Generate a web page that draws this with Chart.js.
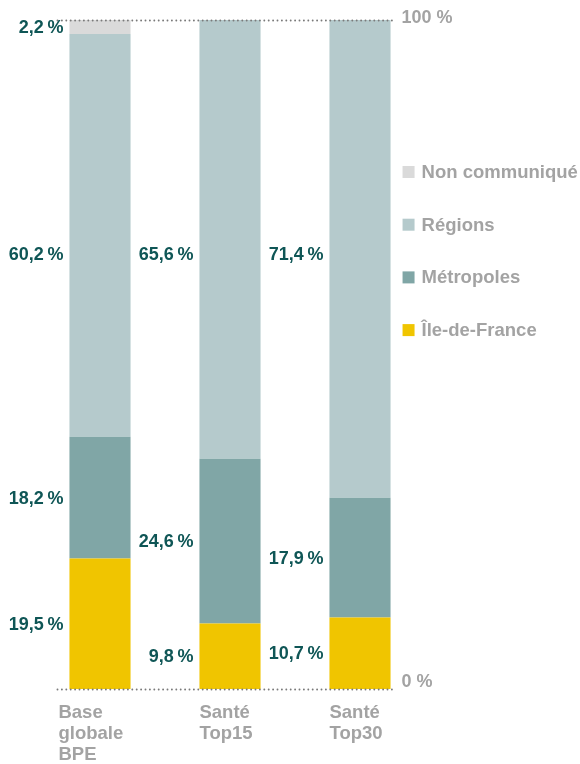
<!DOCTYPE html>
<html>
<head>
<meta charset="utf-8">
<script src="https://cdn.jsdelivr.net/npm/chart.js@4"></script>
<style>
  body { margin: 0; background: #fff; }
  #wrap { width: 580px; height: 764px; position: relative; }
</style>
</head>
<body>
<div id="wrap"><canvas id="chart"></canvas></div>
<script>
const categories = [["Base", "globale", "BPE"], ["Santé", "Top15"], ["Santé", "Top30"]];
const ileDeFrance = [19.5, 9.8, 10.7];
const metropoles = [18.2, 24.6, 17.9];
const regions = [60.2, 65.6, 71.4];
const nonCommunique = [2.2, null, null];
const axisLabels = ["100 %", "0 %"];

const FONT = "'Liberation Sans', Arial, sans-serif";
const GREY = "#a3a3a3";
const TEAL = "#0f5656";

function fmt(v) {
    return v.toFixed(1).replace(".", ",") + "\u2009%";
}

// labels, dotted guides and the legend are painted by hand
const decorations = {
    id: "decorations",
    afterDatasetsDraw(chart) {
        const ctx = chart.ctx;
        const y = chart.scales.y;
        const first = chart.getDatasetMeta(0).data;
        const left = first[0].x - first[0].width / 2;
        const lastBar = first[first.length - 1];
        const right = lastBar.x + lastBar.width / 2;

        ctx.save();

        // dotted lines at 0 and 100
        ctx.strokeStyle = "#7a7a7a";
        ctx.lineWidth = 1.8;
        ctx.lineCap = "round";
        ctx.setLineDash([0.1, 4.3]);
        [100, 0].forEach(function (v) {
            const py = Math.round(y.getPixelForValue(v)) + 0.5;
            ctx.beginPath();
            ctx.moveTo(left - 12, py);
            ctx.lineTo(right + 4, py);
            ctx.stroke();
        });
        ctx.setLineDash([]);

        // 100 % / 0 % on the right
        ctx.font = "bold 18px " + FONT;
        ctx.fillStyle = GREY;
        ctx.textAlign = "left";
        ctx.textBaseline = "alphabetic";
        ctx.fillText(axisLabels[0], right + 11, y.getPixelForValue(100) + 3);
        ctx.fillText(axisLabels[1], right + 11, y.getPixelForValue(0) - 2);

        // value labels, left of each segment
        ctx.font = "bold 18px " + FONT;
        ctx.fillStyle = TEAL;
        ctx.textAlign = "right";
        ctx.textBaseline = "middle";
        chart.data.datasets.forEach(function (ds, di) {
            const meta = chart.getDatasetMeta(di);
            meta.data.forEach(function (bar, i) {
                const v = ds.data[i];
                if (v == null) return;
                let cy = (bar.y + bar.base) / 2;
                if (ds.label === "Régions") cy = y.getPixelForValue(65);
                ctx.fillText(fmt(v), bar.x - bar.width / 2 - 6, cy + 1);
            });
        });

        // category names under the bars
        ctx.font = "bold 18.5px " + FONT;
        ctx.fillStyle = GREY;
        ctx.textAlign = "left";
        ctx.textBaseline = "alphabetic";
        first.forEach(function (bar, i) {
            let x = bar.x - bar.width / 2;
            if (i === 0) x -= 11;
            categories[i].forEach(function (line, k) {
                ctx.fillText(line, x, y.getPixelForValue(0) + 29 + k * 21);
            });
        });

        // legend, top entry is the top of the stack
        const items = chart.data.datasets.slice().reverse();
        items.forEach(function (ds, k) {
            const ly = 172 + k * 52.7;
            ctx.fillStyle = ds.backgroundColor;
            ctx.fillRect(right + 12, ly - 6, 12, 12);
            ctx.fillStyle = GREY;
            ctx.textBaseline = "middle";
            ctx.fillText(ds.label, right + 31, ly + 1);
        });

        ctx.restore();
    }
};

new Chart(document.getElementById("chart").getContext("2d"), {
    type: "bar",
    data: {
        labels: categories,
        datasets: [
            { label: "Île-de-France", data: ileDeFrance, backgroundColor: "#f0c500" },
            { label: "Métropoles", data: metropoles, backgroundColor: "#80a6a6" },
            { label: "Régions", data: regions, backgroundColor: "#b5cacc" },
            { label: "Non communiqué", data: nonCommunique, backgroundColor: "#dadada" }
        ]
    },
    options: {
        responsive: true,
        maintainAspectRatio: false,
        animation: false,
        layout: { padding: { left: 35, right: 155, top: 20, bottom: 75 } },
        datasets: {
            bar: { barPercentage: 0.47, categoryPercentage: 1, borderWidth: 0 }
        },
        scales: {
            x: { stacked: true, display: false },
            y: { stacked: true, display: false, min: 0, max: 100 }
        },
        plugins: {
            legend: { display: false },
            tooltip: { enabled: false }
        }
    },
    plugins: [decorations]
});
</script>
</body>
</html>
